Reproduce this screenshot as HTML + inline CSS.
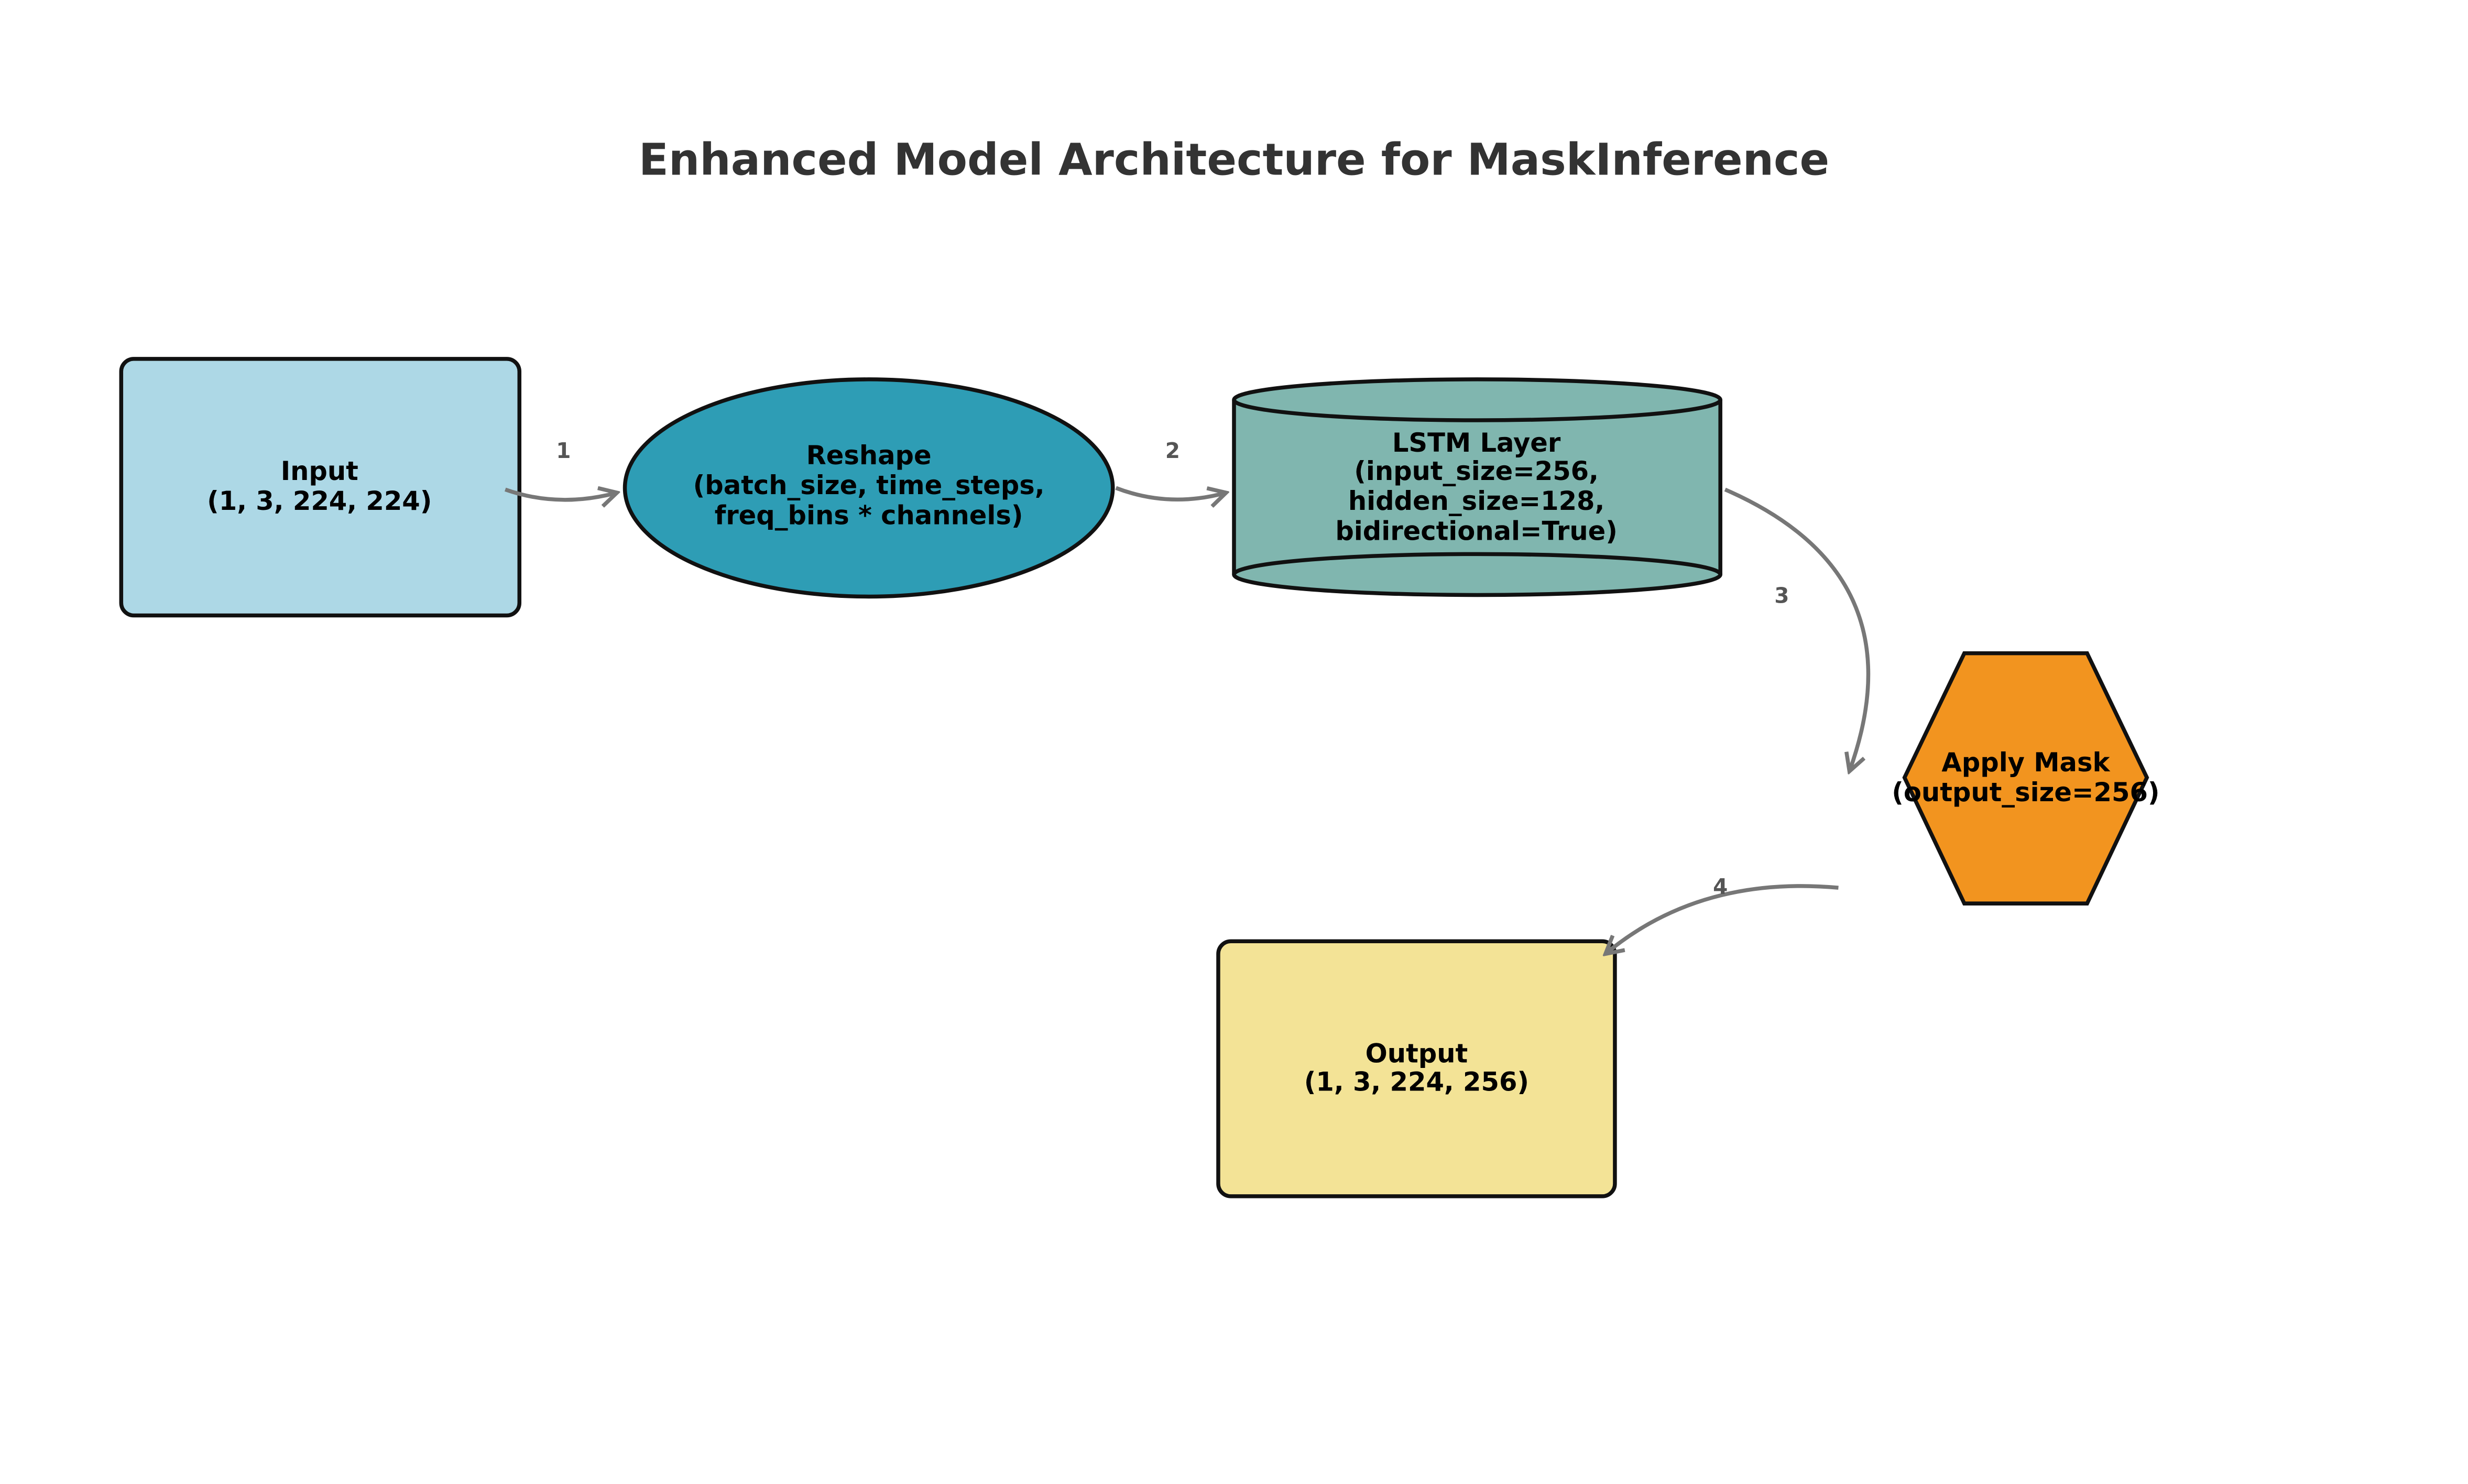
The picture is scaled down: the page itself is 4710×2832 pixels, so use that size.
<!DOCTYPE html>
<html><head><meta charset="utf-8"><style>html,body{margin:0;padding:0;background:#fff}svg{display:block}</style></head>
<body>
<svg xmlns="http://www.w3.org/2000/svg" width="4710" height="2832" viewBox="0 0 1568 942.8" font-family="DejaVu Sans, Liberation Sans, sans-serif" font-weight="bold">
<defs>
<marker id="a" viewBox="0 0 14 14" refX="12" refY="7" markerWidth="14" markerHeight="14" markerUnits="userSpaceOnUse" orient="auto">
<path d="M1,1 L12,7 L1,13" fill="none" stroke="#777" stroke-width="2.5"/>
</marker>
</defs>
<text x="784" y="111" text-anchor="middle" font-size="27.8" fill="#333">Enhanced Model Architecture for MaskInference</text>

<rect x="77" y="228" width="253" height="163" rx="8" fill="#ADD8E6" stroke="#111" stroke-width="2.5"/>
<g font-size="16.5" text-anchor="middle" fill="#000">
<text x="203" y="305">Input</text><text x="203" y="324">(1, 3, 224, 224)</text>
</g>

<ellipse cx="552" cy="310" rx="155" ry="69" fill="#2E9DB5" stroke="#111" stroke-width="2.5"/>
<g font-size="16.5" text-anchor="middle" fill="#000">
<text x="552" y="295">Reshape</text><text x="552" y="314">(batch_size, time_steps,</text><text x="552" y="333">freq_bins * channels)</text>
</g>

<path d="M784,254 L784,365 A154.5,13 0 0 0 1093,365 L1093,254" fill="#80B6AF" stroke="#111" stroke-width="2.5"/>
<ellipse cx="938.5" cy="254" rx="154.5" ry="13" fill="#80B6AF" stroke="#111" stroke-width="2.5"/>
<path d="M784,365 A154.5,13 0 0 1 1093,365" fill="none" stroke="#111" stroke-width="2.5"/>
<g font-size="16.5" text-anchor="middle" fill="#000">
<text x="938" y="287">LSTM Layer</text><text x="938" y="305">(input_size=256,</text><text x="938" y="324">hidden_size=128,</text><text x="938" y="343">bidirectional=True)</text>
</g>

<polygon points="1248,415 1326,415 1364,494 1326,574 1248,574 1210,494" fill="#F2941F" stroke="#111" stroke-width="2.5"/>
<g font-size="16.5" text-anchor="middle" fill="#000">
<text x="1287" y="490">Apply Mask</text><text x="1287" y="509">(output_size=256)</text>
</g>

<rect x="774" y="598" width="252" height="162" rx="8" fill="#F3E396" stroke="#111" stroke-width="2.5"/>
<g font-size="16.5" text-anchor="middle" fill="#000">
<text x="900" y="675">Output</text><text x="900" y="693">(1, 3, 224, 256)</text>
</g>

<g fill="none" stroke="#777" stroke-width="2.5" marker-end="url(#a)">
<path d="M321,311 Q355,323 392,313"/>
<path d="M709,310 Q743,323 779,313"/>
<path d="M1096,311 Q1220,365 1175,490"/>
<path d="M1168,564 Q1080,556 1020,606"/>
</g>
<g font-size="13.5" text-anchor="middle" fill="#555">
<text x="358" y="291">1</text><text x="745" y="291">2</text><text x="1132" y="383">3</text><text x="1093" y="568">4</text>
</g>
</svg>
</body></html>
